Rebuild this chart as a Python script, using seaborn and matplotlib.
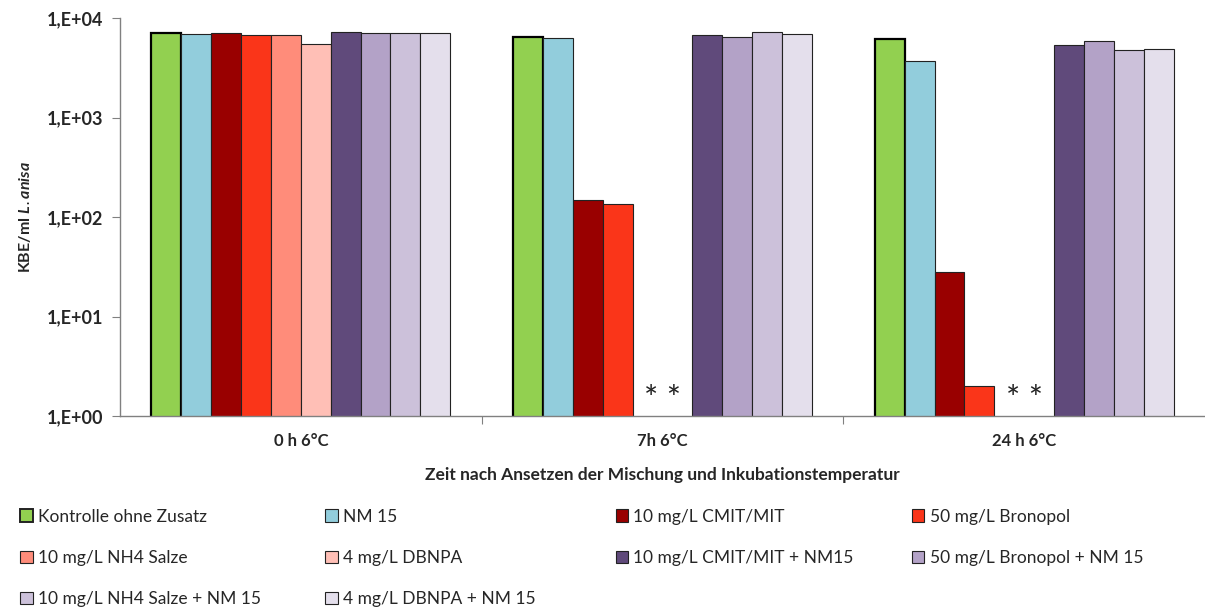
import numpy as np
import pandas as pd
import matplotlib
matplotlib.use("Agg")
import matplotlib.pyplot as plt
from matplotlib.patches import Patch
from matplotlib.ticker import FuncFormatter, NullLocator, FixedLocator
import seaborn as sns

# Daten (KBE/ml L.anisa)
gruppen = ["0 h 6°C", "7h 6°C", "24 h 6°C"]
serien = [
    "Kontrolle ohne Zusatz", "NM 15", "10 mg/L CMIT/MIT", "50 mg/L Bronopol",
    "10 mg/L NH4 Salze", "4 mg/L DBNPA", "10 mg/L CMIT/MIT + NM15",
    "50 mg/L Bronopol + NM 15", "10 mg/L NH4 Salze + NM 15", "4 mg/L DBNPA + NM 15",
]
kontrolle = [7060, 6440, 6150]
nm15 = [7000, 6350, 3700]
cmit = [7100, 150, 28]
bronopol = [6800, 135, 2]
nh4 = [6800, np.nan, np.nan]
dbnpa = [5500, np.nan, np.nan]
cmit_nm15 = [7230, 6800, 5400]
bronopol_nm15 = [7100, 6490, 5840]
nh4_nm15 = [7180, 7350, 4840]
dbnpa_nm15 = [7100, 7010, 4950]
werte = [kontrolle, nm15, cmit, bronopol, nh4, dbnpa,
         cmit_nm15, bronopol_nm15, nh4_nm15, dbnpa_nm15]
farben = ["#92D050", "#92CDDC", "#990000", "#FA3519", "#FF8C7A", "#FFBFB6",
          "#604A7B", "#B3A2C7", "#CCC1DA", "#E4DFEC"]

rows = []
for s, vals in zip(serien, werte):
    for g, v in zip(gruppen, vals):
        rows.append({"Zeit": g, "Ansatz": s, "KBE": v})
df = pd.DataFrame(rows).dropna()

sns.set_theme(style="white")
plt.rcParams["font.family"] = ["Lato", "DejaVu Sans"]
plt.rcParams["mathtext.fontset"] = "custom"
plt.rcParams["mathtext.it"] = "Lato:italic:bold"

fig = plt.figure(figsize=(12.05, 6.09), dpi=100)
ax = fig.add_axes([0.0996, 0.317, 0.9004, 0.653])

breite = 0.826
sns.barplot(data=df, x="Zeit", y="KBE", hue="Ansatz", order=gruppen,
            hue_order=serien, palette=dict(zip(serien, farben)),
            saturation=1, width=breite, dodge=True, errorbar=None,
            legend=False, edgecolor="#222222", linewidth=0.8, ax=ax)

# Kontrolle dicker umrandet
for bar in ax.containers[0]:
    bar.set_edgecolor("black")
    bar.set_linewidth(1.6)

ax.set_yscale("log")
ax.set_ylim(1, 1e4)
ax.set_xlim(-0.5, 2.5)
ax.yaxis.set_major_locator(FixedLocator([1, 10, 100, 1000, 10000]))
ax.yaxis.set_minor_locator(NullLocator())
ax.yaxis.set_major_formatter(
    FuncFormatter(lambda v, p: "1,E+%02d" % int(round(np.log10(v)))))
ax.tick_params(axis="y", which="major", left=True, length=6, width=0.8,
               color="#808080", labelsize=13, pad=6)
for lbl in ax.get_yticklabels():
    lbl.set_fontweight("bold")

# Kategorie-Trennstriche als Minor-Ticks
ax.set_xticks(range(len(gruppen)))
ax.set_xticklabels(gruppen, fontweight="bold", fontsize=12)
ax.xaxis.set_minor_locator(FixedLocator([0.5, 1.5]))
ax.tick_params(axis="x", which="major", length=0, pad=12)
ax.tick_params(axis="x", which="minor", bottom=True, length=6, width=0.8,
               color="#808080")

for side in ["top", "right"]:
    ax.spines[side].set_visible(False)
for side in ["left", "bottom"]:
    ax.spines[side].set_color("#808080")
    ax.spines[side].set_linewidth(1.0)

ax.set_xlabel("Zeit nach Ansetzen der Mischung und Inkubationstemperatur",
              fontweight="bold", fontsize=12.5, labelpad=13)
ax.set_ylabel(r"KBE/ml $\mathit{L.anisa}$", fontweight="bold", fontsize=11.5,
              labelpad=10)

# Sterne: keine KBE nachweisbar (NH4 Salze, DBNPA)
for i in [1, 2]:
    ax.text(i, 1.45, "* *", ha="center", va="center", fontsize=24,
            color="#222222")

# Legende in 4 festen Spalten
handles = [Patch(facecolor=f, edgecolor="#222222",
                 linewidth=1.4 if k == 0 else 0.8)
           for k, f in enumerate(farben)]
spalten_x = [0.017, 0.27, 0.511, 0.757]
for c, x0 in enumerate(spalten_x):
    idx = list(range(c, len(serien), 4))
    fig.legend([handles[k] for k in idx], [serien[k] for k in idx],
               loc="upper left", bbox_to_anchor=(x0, 0.165),
               frameon=False, fontsize=12.5, handlelength=0.7,
               handleheight=0.7, handletextpad=0.3, labelspacing=1.45,
               borderaxespad=0, borderpad=0)

fig.savefig("out.png", dpi=100)
